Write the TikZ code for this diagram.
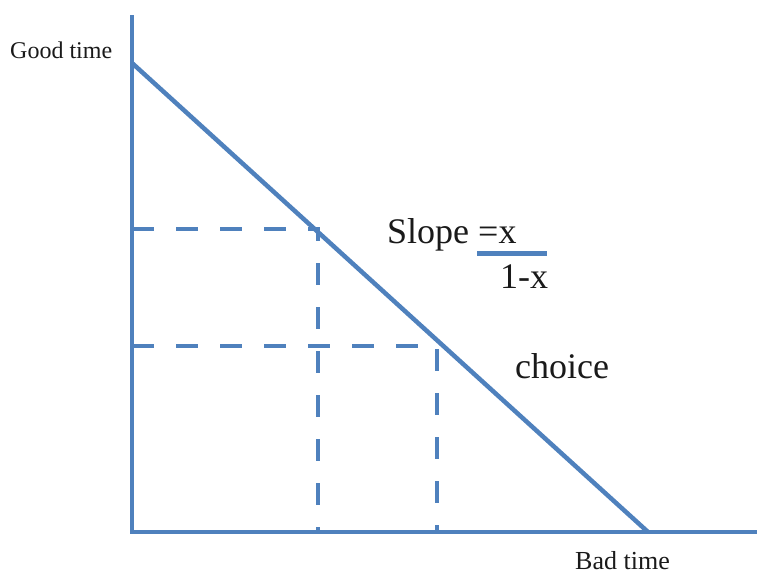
\documentclass[tikz,border=0pt]{standalone}
\usepackage{fontspec}
\setmainfont{Liberation Serif}
\definecolor{lineblue}{HTML}{4F81BD}
\definecolor{txt}{HTML}{1A1A1A}
\begin{document}
\begin{tikzpicture}[x=1pt,y=-1pt,
  axisline/.style={draw=lineblue,line width=4.5pt},
  guide/.style={draw=lineblue,line width=4.5pt,dash pattern=on 22pt off 22pt},
  lbl/.style={anchor=base west,inner sep=0pt,text=txt}]
\useasboundingbox (0,0) rectangle (757,576);
% coordinates
\coordinate (top) at (132,15);
\coordinate (origin) at (132,532);
\coordinate (right) at (757,532);
\coordinate (ya) at (132,63);
\coordinate (xa) at (648,532);
\coordinate (p1) at (318,229);
\coordinate (p1y) at (132,229);
\coordinate (p1x) at (318,532);
\coordinate (p2) at (437,346);
\coordinate (p2y) at (132,346);
\coordinate (p2x) at (437,532);
\coordinate (barl) at (477,253);
\coordinate (barr) at (547,253);
% axes
\draw[axisline,line join=miter] (top) -- (origin) -- (right);
\draw[axisline] (ya) -- (xa);
% guides
\draw[guide] (p1y) -- (p1) -- (p1x);
\draw[guide] (p2y) -- (p2) -- (p2x);
% fraction bar
\draw[draw=lineblue,line width=5pt] (barl) -- (barr);
% labels
\node[lbl,font=\fontsize{24}{28}\selectfont] (good) at (10,58) {Good time};
\node[lbl,font=\fontsize{26}{30}\selectfont] (bad) at (575,569) {Bad time};
\node[lbl,font=\fontsize{36}{40}\selectfont] (slope) at (387,243) {Slope =x};
\node[lbl,font=\fontsize{36}{40}\selectfont] (den) at (500,288) {1-x};
\node[lbl,font=\fontsize{36}{40}\selectfont] (choice) at (515,378) {choice};
\end{tikzpicture}
\end{document}
